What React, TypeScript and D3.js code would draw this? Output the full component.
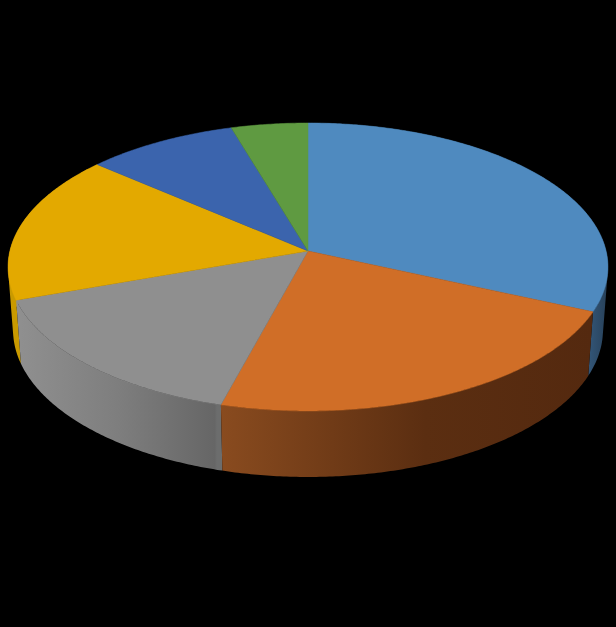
import { pie, line, range, scaleLinear, polygonArea } from "d3";

const categories = ["A", "B", "C", "D", "E", "F"];
const values = [31.7, 22.5, 15.4, 16.7, 9.1, 4.6];
const topColors = ["#4f8abf", "#d06e27", "#8f8f8f", "#e3a900", "#3b64ad", "#5f9a41"];

const W = 616;
const H = 627;

// perspective of the tilted disc
const cx = 308;
const cy = 251;
const rx = 298.1;
const ry = 142.2;
const p = 0.111;

// top rim -> bottom rim of the disc
const bottomX = scaleLinear().domain([cx, cx + 300]).range([cx, cx + 295]);
const bottomY = scaleLinear().domain([267, 411]).range([330, 477]);

type Pt = [number, number];

function rim(a: number): Pt {
  const u = Math.sin(a);
  const v = -Math.cos(a);
  const w = 1 - p * v;
  return [cx + (rx * u) / w, cy + (ry * v) / w];
}

function rimBottom(a: number): Pt {
  const [x, y] = rim(a);
  return [bottomX(x), bottomY(y)];
}

function arcAngles(a0: number, a1: number) {
  const n = Math.max(2, Math.ceil((a1 - a0) / 0.01));
  return range(n + 1).map((i) => a0 + ((a1 - a0) * i) / n);
}

const path = line<Pt>();

const slices = pie<number>().sort(null)(values);

// the wall is a strip of quads, so it follows the straight edge at the disc's sides.
// all quads wound the same way, or the overlap at the fold cancels out
function wallPath(a0: number, a1: number) {
  const as = arcAngles(a0, a1);
  return as
    .slice(1)
    .map((a, i) => {
      const quad: Pt[] = [rim(as[i]), rim(a), rimBottom(a), rimBottom(as[i])];
      if (polygonArea(quad) < 0) quad.reverse();
      return path(quad) + "Z";
    })
    .join("");
}

const sideStops: Record<number, [number, string][]> = {
  0: [[0, "#325475"], [1, "#274058"]],
  1: [[0, "#894b1f"], [0.3, "#703b17"], [0.55, "#5b2e11"], [1, "#54290f"]],
  2: [[0, "#909090"], [0.5, "#7e7e7e"], [0.97, "#666666"], [0.98, "#6c6d6d"], [1, "#6c6d6d"]],
  3: [[0, "#c99a00"], [1, "#c99a00"]],
};

const sideRange: Record<number, [number, number]> = {
  0: [590, 608],
  1: [221, 592],
  2: [15, 221],
  3: [8, 20],
};

// back to front so the nearer walls sit on top
const sideOrder = [0, 3, 2, 1];

export default function App() {
  return (
    <svg
      width={W}
      height={H}
      viewBox={`0 0 ${W} ${H}`}
      style={{ position: "fixed", left: 0, top: 0, display: "block", background: "#000" }}
    >
      <defs>
        {sideOrder.map((i) => (
          <linearGradient
            key={i}
            id={`side-${i}`}
            gradientUnits="userSpaceOnUse"
            x1={sideRange[i][0]}
            x2={sideRange[i][1]}
            y1={0}
            y2={0}
          >
            {sideStops[i].map(([o, c], j) => (
              <stop key={j} offset={o} stopColor={c} />
            ))}
          </linearGradient>
        ))}
      </defs>
      <rect width={W} height={H} fill="#000" />

      {/* Walls */}
      {sideOrder.map((i) => {
        const s = slices[i];
        return <path key={i} d={wallPath(s.startAngle, s.endAngle)} fill={`url(#side-${i})`} />;
      })}

      {/* Top faces */}
      {slices.map((s, i) => {
        const pts: Pt[] = [[cx, cy], ...arcAngles(s.startAngle, s.endAngle).map(rim)];
        return (
          <path
            key={categories[i]}
            d={path(pts) + "Z"}
            fill={topColors[i]}
            stroke={topColors[i]}
            strokeWidth={0.5}
          />
        );
      })}
    </svg>
  );
}
